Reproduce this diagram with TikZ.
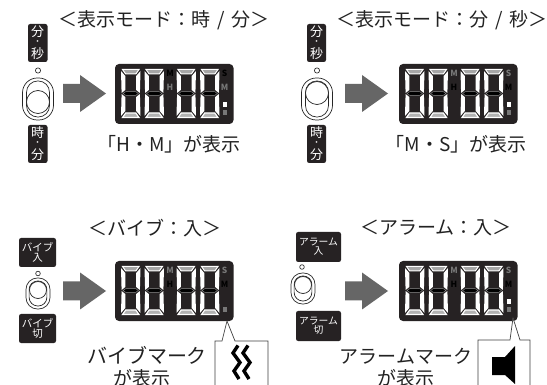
\documentclass[tikz,border=0pt]{standalone}
\usepackage{fontspec}
\setmainfont{Noto Sans CJK JP}
\definecolor{panelc}{HTML}{262223}
\definecolor{dimc}{HTML}{777777}
\definecolor{arrowc}{HTML}{666666}
\definecolor{textc}{HTML}{222222}
\newcommand{\fsz}[1]{\fontsize{#1}{#1}\selectfont}
\tikzset{
  big/.style={inner sep=0pt,text=textc,font=\fsz{19}},
  lab/.style={inner sep=0pt,text=white,font=\fsz{13}},
  dotlab/.style={inner sep=0pt,text=white,font=\fsz{8}},
  tiny/.style={inner sep=0pt,text=white,font=\fsz{10.5},align=center},
  tinyb/.style={inner sep=0pt,text=white,font=\fsz{9.8},align=center},
  btn/.style={fill=panelc,rounded corners=2.2pt,draw=none},
  sw/.style={draw=black!85,line width=0.7pt,fill=white},
  arr/.style={fill=arrowc,draw=none},
  call/.style={draw=black!75,line width=0.7pt},
  ind/.style={inner sep=0pt,font=\fsz{8.5}\bfseries},
}
% one LCD digit, local origin top-left
\newcommand{\lcddigit}[2]{%
\begin{scope}[shift={(#1,#2)}]
 \fill[white] (0,2) -- (4.3,7) -- (4.3,21) -- (0.6,24) -- cycle;
 \fill[white] (19.5,2) -- (15.2,7) -- (15.2,21) -- (18.9,24) -- cycle;
 \fill[white] (0,47) -- (4.3,42) -- (4.3,28) -- (0.6,25) -- cycle;
 \fill[white] (19.5,47) -- (15.2,42) -- (15.2,28) -- (18.9,25) -- cycle;
 \filldraw[draw=white,fill=black!35,line width=1pt] (1.5,0.5) -- (18,0.5) -- (14.8,5) -- (4.7,5) -- cycle;
 \filldraw[draw=white,fill=black!30,line width=1.2pt] (1.5,48.5) -- (18,48.5) -- (14.8,44) -- (4.7,44) -- cycle;
 \filldraw[draw=black!45,fill=black,line width=0.4pt] (2,24.5) -- (5,22.6) -- (14.5,22.6) -- (17.5,24.5) -- (14.5,26.4) -- (5,26.4) -- cycle;
\end{scope}}
% LCD panel: x,y, colours of M, H, S, M2, and the three icon colours
\newcommand{\lcdpanel}[9]{%
\begin{scope}[shift={(#1,#2)}]
 \fill[panelc,rounded corners=4pt] (0,0) rectangle (118.5,60);
 \lcddigit{6}{5}\lcddigit{29.5}{5}\lcddigit{61.5}{5}\lcddigit{85}{5}
 \node[ind,text=#3] (#1#2m) at (55,9) {M};
 \node[ind,text=#4] (#1#2h) at (55,23) {H};
 \node[ind,text=#5] (#1#2s) at (109.5,9.5) {S};
 \node[ind,text=#6] (#1#2n) at (109.5,23) {M};
 \fill[#7] (107.5,30) rectangle (111.5,35);
 \fill[#8] (107.5,38) rectangle (111.5,43);
 \fill[#9] (107.5,46) rectangle (111.5,51);
\end{scope}}
% block arrow
\newcommand{\blockarrow}[2]{%
 \fill[arr] (#1,#2-9.5) -- (#1+17,#2-9.5) -- (#1+17,#2-18.5) -- (#1+43,#2) -- (#1+17,#2+18.5) -- (#1+17,#2+9.5) -- (#1,#2+9.5) -- cycle;}
% slide switch: centre x, top, bottom, half width, knob y, knob r
\newcommand{\slideswitch}[6]{%
 \draw[sw,rounded corners=#4*0.95pt] (#1-#4,#2) rectangle (#1+#4,#3);
 \draw[sw,rounded corners=#4*0.72pt] (#1-#4*0.74,#2+3) rectangle (#1+#4*0.74,#3-3);
 \draw[sw] (#1,#5) circle (#6);}
\newcommand{\gapslash}{\hspace{7pt}/\hspace{7pt}}
\begin{document}
\begin{tikzpicture}[x=1pt,y=-1pt]
\clip (0,0) rectangle (547,385);
\fill[white] (0,0) rectangle (547,385);
% clipped line at the very top
\node[big,anchor=base west] (topline) at (18,-3.5) {かできます。};

% top-left
\node[big,anchor=center] (t1) at (164,20) {＜表示モード：時\gapslash 分＞};
\fill[btn] (28,24) rectangle (47.5,62);
\node[lab] (a1) at (37.7,32) {分};
\node[dotlab] (a2) at (37.7,42.7) {・};
\node[lab] (a3) at (37.7,53.5) {秒};
\draw[black!80,line width=0.7pt] (38,70.5) circle (2.6);
\slideswitch{38}{78}{120}{15.5}{102}{11.5}
\fill[btn] (28,125) rectangle (47.5,163);
\node[lab] (a4) at (37.7,133) {時};
\node[dotlab] (a5) at (37.7,143.7) {・};
\node[lab] (a6) at (37.7,154.5) {分};
\blockarrow{63}{93.5}
\lcdpanel{115}{64}{black}{dimc}{black}{dimc}{panelc}{white}{dimc}
\node[big] (l1) at (169,144) {「H・M」が表示};

% top-right
\node[big] (t2) at (442,20) {＜表示モード：分\gapslash 秒＞};
\fill[btn] (307,24) rectangle (326,62);
\node[lab] (b1) at (316.5,32) {分};
\node[dotlab] (b2) at (316.5,42.7) {・};
\node[lab] (b3) at (316.5,53.5) {秒};
\draw[black!80,line width=0.7pt] (317,70.5) circle (2.6);
\slideswitch{317}{78}{120}{15.5}{93}{11.5}
\fill[btn] (307,125) rectangle (326,163);
\node[lab] (b4) at (316.5,133) {時};
\node[dotlab] (b5) at (316.5,143.7) {・};
\node[lab] (b6) at (316.5,154.5) {分};
\blockarrow{345}{93.5}
\lcdpanel{399}{64}{dimc}{black}{dimc}{black}{panelc}{white}{dimc}
\node[big] (l2) at (456,144) {「M・S」が表示};

% bottom-left
\node[big] (t3) at (155,228) {＜バイブ：入＞};
\fill[btn] (19,238) rectangle (56,267);
\node[tiny] (c1) at (37.5,252.5) {バイブ\\[-1pt]入};
\draw[black!80,line width=0.7pt] (38,273.5) circle (2.3);
\slideswitch{38}{278}{309}{12}{290}{8.5}
\fill[btn] (19,314) rectangle (56,343);
\node[tiny] (c2) at (37.5,328.5) {バイブ\\[-1pt]切};
\blockarrow{63}{291}
\lcdpanel{115}{261}{dimc}{black}{dimc}{black}{panelc}{panelc}{dimc}
\node[big,font=\fsz{20}] (l3) at (147,355) {バイブマーク};
\node[big] (l3b) at (142,378) {が表示};
\coordinate (p3) at (227,321);
\draw[call,fill=white] (215,386) -- (215,341) -- (222,341) -- (p3) -- (235,341) -- (268,341) -- (268,386);
\draw[black,line width=3.4pt,line join=miter] (238,345.5) -- (233,353) -- (240,362.5) -- (234,371) -- (239,379);
\draw[black,line width=3.4pt,line join=miter] (248,345.5) -- (243,353) -- (250,362.5) -- (244,371) -- (249,379);

% bottom-right
\node[big] (t4) at (436,228) {＜アラーム：入＞};
\fill[btn] (296,232) rectangle (341,262);
\node[tinyb] (d1) at (318.5,247) {アラーム\\[-1pt]入};
\draw[black!80,line width=0.7pt] (302,267) circle (2.3);
\slideswitch{303}{273}{304}{12}{285}{8.5}
\fill[btn] (296,311) rectangle (341,341);
\node[tinyb] (d2) at (318.5,326) {アラーム\\[-1pt]切};
\blockarrow{345}{291}
\lcdpanel{399}{261}{dimc}{black}{dimc}{black}{panelc}{white}{dimc}
\node[big] (l4) at (406,356) {アラームマーク};
\node[big] (l4b) at (405.5,378) {が表示};
\coordinate (p4) at (513,318);
\draw[call,fill=white] (478,386) -- (478,340) -- (510,340) -- (p4) -- (520,340) -- (530,340) -- (530,386);
\fill[black] (492,357) -- (505,357) -- (515,346) -- (515,384) -- (505,375) -- (492,375) -- cycle;
\end{tikzpicture}
\end{document}
